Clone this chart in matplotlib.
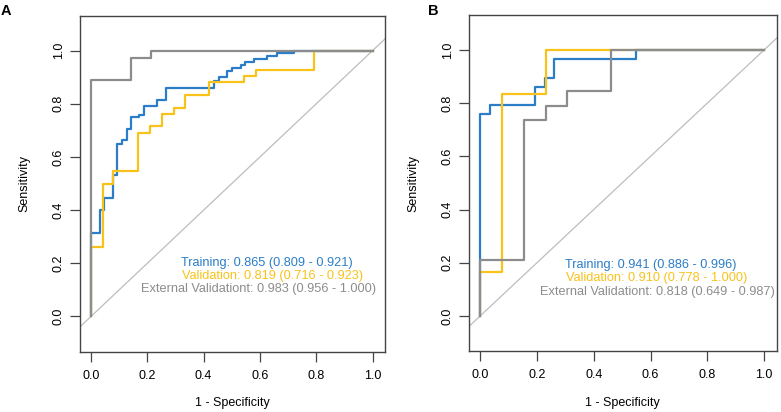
import matplotlib
matplotlib.use("Agg")
import matplotlib.pyplot as plt

plt.rcParams['font.family'] = ['Liberation Sans', 'DejaVu Sans']

BLUE = '#2a7dc6'
YELLOW = '#f8c21a'
GRAY = '#8c8c8c'
DIAG = '#bdbdbd'

# Panel A: ROC step corners (1 - specificity, sensitivity)
a_train_fpr = [0, 0, 0.032, 0.047, 0.079, 0.093, 0.109, 0.127, 0.141, 0.172, 0.188, 0.235,
               0.266, 0.438, 0.454, 0.484, 0.500, 0.532, 0.548, 0.580, 0.626, 0.659, 0.722, 1.0]
a_train_tpr = [0, 0.314, 0.400, 0.446, 0.533, 0.650, 0.662, 0.706, 0.749, 0.757, 0.793, 0.816,
               0.858, 0.887, 0.901, 0.922, 0.935, 0.946, 0.956, 0.967, 0.979, 0.991, 1.0, 1.0]
a_val_fpr = [0, 0, 0.041, 0.079, 0.167, 0.210, 0.251, 0.294, 0.334, 0.418, 0.542, 0.585, 0.793, 1.0]
a_val_tpr = [0, 0.260, 0.500, 0.546, 0.690, 0.715, 0.760, 0.785, 0.833, 0.882, 0.906, 0.929, 1.0, 1.0]
a_ext_fpr = [0, 0, 0.143, 0.214, 1.0]
a_ext_tpr = [0, 0.891, 0.972, 1.0, 1.0]

# Panel B
b_train_fpr = [0, 0, 0.034, 0.195, 0.227, 0.259, 0.548, 1.0]
b_train_tpr = [0, 0.759, 0.793, 0.862, 0.896, 0.965, 1.0, 1.0]
b_val_fpr = [0, 0, 0.076, 0.231, 1.0]
b_val_tpr = [0, 0.166, 0.834, 1.0, 1.0]
b_ext_fpr = [0, 0, 0.153, 0.231, 0.307, 0.461, 1.0]
b_ext_tpr = [0, 0.210, 0.737, 0.790, 0.844, 1.0, 1.0]

a_labels = ['Training: 0.865 (0.809 - 0.921)',
            'Validation: 0.819 (0.716 - 0.923)',
            'External Validationt: 0.983 (0.956 - 1.000)']
b_labels = ['Training: 0.941 (0.886 - 0.996)',
            'Validation: 0.910 (0.778 - 1.000)',
            'External Validationt: 0.818 (0.649 - 0.987)']
a_label_pos = [(0.623, 0.201), (0.644, 0.153), (0.596, 0.103)]
b_label_pos = [(0.600, 0.190), (0.622, 0.144), (0.623, 0.091)]

fig = plt.figure(figsize=(7.81, 4.12), dpi=100)
axA = fig.add_axes([0.1024, 0.146, 0.3905, 0.815])
axB = fig.add_axes([0.6005, 0.147, 0.394, 0.816])


def draw_panel(ax, curves, labels, label_pos, letter, letter_x):
    ax.plot([-0.2, 1.2], [-0.2, 1.2], color=DIAG, lw=0.9, zorder=1)
    for (fpr, tpr, col) in curves:
        ax.plot(fpr, tpr, drawstyle='steps-post', color=col, lw=1.6, zorder=2)
    for txt, (x, y), col in zip(labels, label_pos, [BLUE, YELLOW, GRAY]):
        ax.text(x, y, txt, color=col, fontsize=9.2, ha='center', va='center',
                clip_on=False, zorder=3)
    ax.set_xlim(-0.039, 1.044)
    ax.set_ylim(-0.133, 1.13)
    ticks = [0.0, 0.2, 0.4, 0.6, 0.8, 1.0]
    ax.set_xticks(ticks)
    ax.set_yticks(ticks)
    ax.set_xticklabels(['%.1f' % t for t in ticks])
    ax.set_yticklabels(['%.1f' % t for t in ticks], rotation=90, va='center')
    ax.tick_params(direction='out', length=7, width=0.9, color='#444444',
                   labelsize=9, pad=6)
    ax.tick_params(axis='y', pad=4)
    for s in ax.spines.values():
        s.set_color('#444444')
        s.set_linewidth(1.0)
    ax.set_xlabel('1 - Specificity', fontsize=9, labelpad=11)
    ax.set_ylabel('Sensitivity', fontsize=9, labelpad=16)
    fig.text(letter_x, 0.99, letter, fontsize=10.5, fontweight='bold', ha='left', va='top')


draw_panel(axA, [(a_train_fpr, a_train_tpr, BLUE), (a_val_fpr, a_val_tpr, YELLOW),
                 (a_ext_fpr, a_ext_tpr, GRAY)],
           a_labels, a_label_pos, 'A', 0.001)
draw_panel(axB, [(b_train_fpr, b_train_tpr, BLUE), (b_val_fpr, b_val_tpr, YELLOW),
                 (b_ext_fpr, b_ext_tpr, GRAY)],
           b_labels, b_label_pos, 'B', 0.548)

fig.savefig('out.png', dpi=100)
